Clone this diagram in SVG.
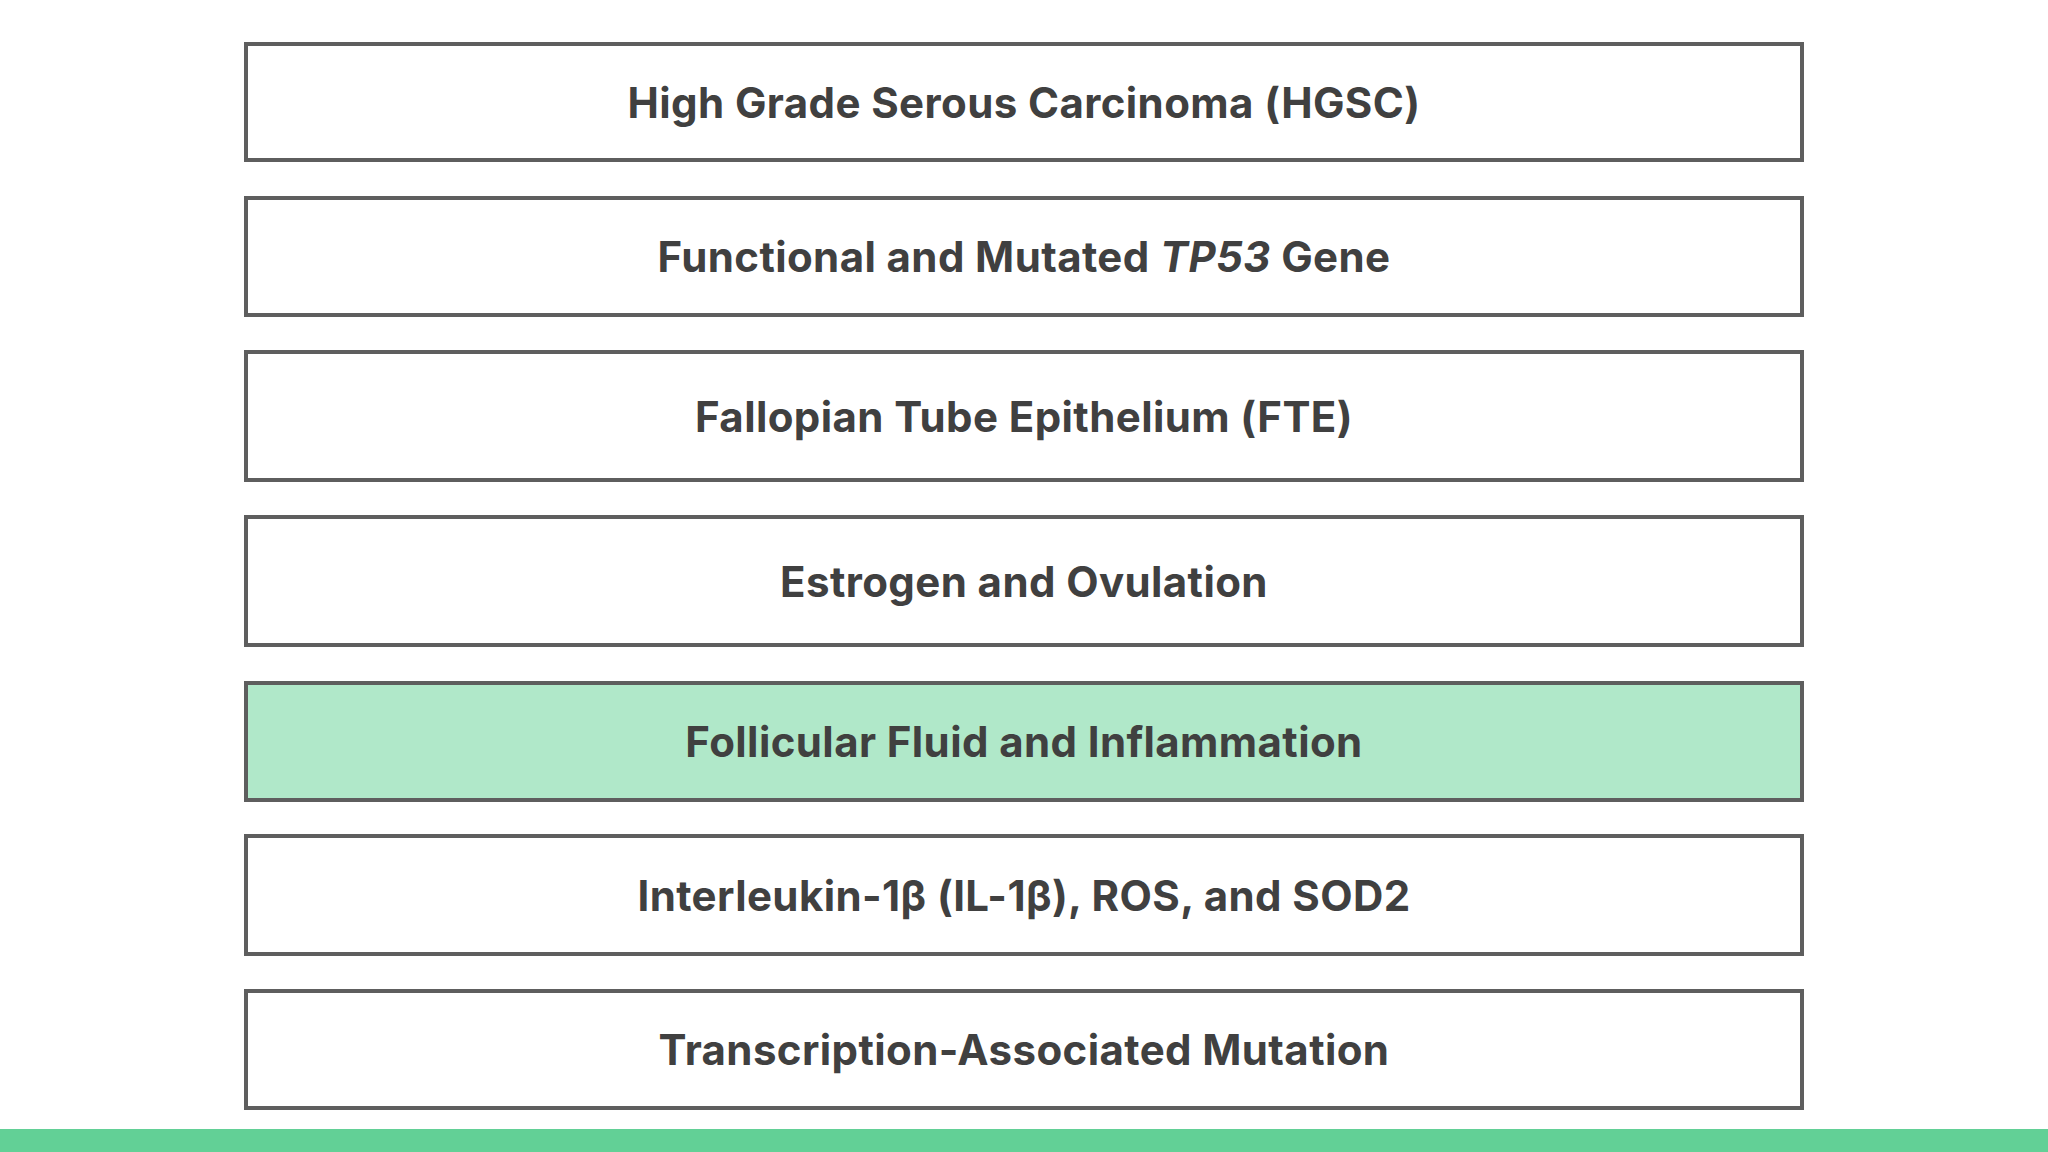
<svg xmlns="http://www.w3.org/2000/svg" width="2048" height="1152" viewBox="0 0 2048 1152">
<style>
.box{fill:#ffffff;stroke:#5e5e5e;stroke-width:4}
.hl{fill:#b0e8c9}
.t{font-family:Inter,"Open Sans","Liberation Sans",sans-serif;font-weight:700;font-size:42px;letter-spacing:0.4px;fill:#404040;text-anchor:middle;dominant-baseline:central;font-variant-ligatures:none}
</style>
<rect width="2048" height="1152" fill="#ffffff"/>
<g id="n1"><rect class="box" x="246" y="44" width="1556" height="116"/><text class="t" x="1024" y="102">High Grade Serous Carcinoma (HGSC)</text></g>
<g id="n2"><rect class="box" x="246" y="198" width="1556" height="117"/><text class="t" x="1024" y="256">Functional and Mutated <tspan font-style="italic">TP53</tspan> Gene</text></g>
<g id="n3"><rect class="box" x="246" y="352" width="1556" height="128"/><text class="t" x="1024" y="416">Fallopian Tube Epithelium (FTE)</text></g>
<g id="n4"><rect class="box" x="246" y="517" width="1556" height="128"/><text class="t" x="1024" y="581">Estrogen and Ovulation</text></g>
<g id="n5"><rect class="box hl" x="246" y="683" width="1556" height="117"/><text class="t" x="1024" y="741">Follicular Fluid and Inflammation</text></g>
<g id="n6"><rect class="box" x="246" y="836" width="1556" height="118"/><text class="t" x="1024" y="895">Interleukin-1β (IL-1β), ROS, and SOD2</text></g>
<g id="n7"><rect class="box" x="246" y="991" width="1556" height="117"/><text class="t" x="1024" y="1049">Transcription-Associated Mutation</text></g>
<g id="connectors"></g>
<rect x="0" y="1129" width="2048" height="23" fill="#62d096"/>
</svg>
